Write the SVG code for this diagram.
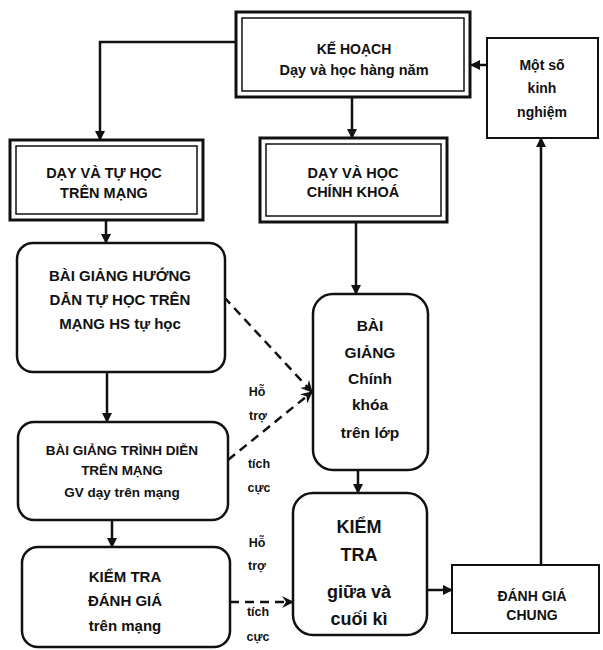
<svg xmlns="http://www.w3.org/2000/svg" width="603" height="650" viewBox="0 0 603 650">
<style>
text{font-family:"Liberation Sans",Arial,sans-serif;font-weight:bold;fill:#111;text-anchor:middle;dominant-baseline:central}
.o{fill:#fff;stroke:#111;stroke-width:3}
.i{fill:none;stroke:#111;stroke-width:1.5}
.r{fill:#fff;stroke:#111;stroke-width:2.5}
.s{fill:#fff;stroke:#111;stroke-width:2}
.c{fill:none;stroke:#111;stroke-width:2.5}
.d{fill:none;stroke:#111;stroke-width:2.5;stroke-dasharray:9,6}
.l{font-size:12.5px}
</style>
<defs>
<marker id="a" markerWidth="10" markerHeight="10" refX="9" refY="5" orient="auto" markerUnits="userSpaceOnUse"><path d="M0,0 L10,5 L0,10 Z" fill="#111"/></marker>
<marker id="b" markerWidth="12" markerHeight="12" refX="11" refY="6" orient="auto" markerUnits="userSpaceOnUse"><path d="M0,0 L12,6 L0,12 L4,6 Z" fill="#111"/></marker>
</defs>
<g id="connectors">
<path class="c" d="M236,42 H100 V140" marker-end="url(#a)"/>
<path class="c" d="M352,97 V138" marker-end="url(#a)"/>
<path class="c" d="M487,65 H471" marker-end="url(#a)"/>
<path class="c" d="M541,565 V138" marker-end="url(#a)"/>
<path class="c" d="M106,220 V243" marker-end="url(#a)"/>
<path class="c" d="M356,222 V294" marker-end="url(#a)"/>
<path class="c" d="M107,372 V422" marker-end="url(#a)"/>
<path class="c" d="M112,520 V547" marker-end="url(#a)"/>
<path class="c" d="M358,470 V493" marker-end="url(#a)"/>
<path class="c" d="M427,590 H452" marker-end="url(#a)"/>
<path class="d" d="M224,297 L312,392" marker-end="url(#b)"/>
<path class="d" d="M228,460 L312,392" marker-end="url(#b)"/>
<path class="d" d="M230,602 H293" marker-end="url(#b)"/>
<text class="l" x="257" y="392">Hỗ</text>
<text class="l" x="258" y="416">trợ</text>
<text class="l" x="259" y="464">tích</text>
<text class="l" x="259" y="488">cực</text>
<text class="l" x="257" y="543">Hỗ</text>
<text class="l" x="257" y="566">trợ</text>
<text class="l" x="258" y="612">tích</text>
<text class="l" x="258" y="637">cực</text>
</g>
<g id="kehoach">
<rect class="o" x="236" y="12" width="234" height="85"/>
<rect class="i" x="242" y="18" width="222" height="73"/>
<text x="354" y="49" font-size="14">KẾ HOẠCH</text>
<text x="354" y="70" font-size="14.5">Dạy và học hàng năm</text>
</g>
<g id="kinhnghiem">
<rect class="s" x="487" y="38" width="111" height="100"/>
<text x="542" y="65" font-size="14">Một số</text>
<text x="542" y="88" font-size="14">kinh</text>
<text x="542" y="112" font-size="14">nghiệm</text>
</g>
<g id="daytuhoc">
<rect class="o" x="10" y="140" width="193" height="80"/>
<rect class="i" x="16" y="146" width="181" height="68"/>
<text x="104" y="173" font-size="14.5">DẠY VÀ TỰ HỌC</text>
<text x="104" y="193" font-size="14.5">TRÊN MẠNG</text>
</g>
<g id="dayhoc">
<rect class="o" x="260" y="138" width="187" height="84"/>
<rect class="i" x="266" y="144" width="175" height="72"/>
<text x="353" y="173" font-size="14.5">DẠY VÀ HỌC</text>
<text x="353" y="192" font-size="14.5">CHÍNH KHOÁ</text>
</g>
<g id="baigianghuongdan">
<rect class="r" x="17" y="243" width="208" height="129" rx="16"/>
<text x="120" y="275" font-size="15">BÀI GIẢNG HƯỚNG</text>
<text x="120" y="299" font-size="15">DẪN TỰ HỌC TRÊN</text>
<text x="120" y="323" font-size="15">MẠNG HS tự học</text>
</g>
<g id="baigiangtrinhdien">
<rect class="r" x="18" y="422" width="210" height="98" rx="16"/>
<text x="122" y="450" font-size="13.5">BÀI GIẢNG TRÌNH DIỄN</text>
<text x="122" y="470" font-size="13.5">TRÊN MẠNG</text>
<text x="122" y="492" font-size="13.5">GV dạy trên mạng</text>
</g>
<g id="kiemtradanhgia">
<rect class="r" x="22" y="547" width="208" height="100" rx="16"/>
<text x="125" y="576" font-size="15">KIỂM TRA</text>
<text x="125" y="600" font-size="15">ĐÁNH GIÁ</text>
<text x="125" y="625" font-size="15">trên mạng</text>
</g>
<g id="baigiangchinhkhoa">
<rect class="r" x="313" y="294" width="115" height="176" rx="20"/>
<text x="370" y="325" font-size="15.5">BÀI</text>
<text x="370" y="352" font-size="15.5">GIẢNG</text>
<text x="370" y="378" font-size="15.5">Chính</text>
<text x="370" y="404" font-size="15.5">khóa</text>
<text x="370" y="432" font-size="15.5">trên lớp</text>
</g>
<g id="kiemtragiuaki">
<rect class="r" x="293" y="493" width="134" height="142" rx="20"/>
<text x="359" y="527" font-size="18">KIỂM</text>
<text x="359" y="555" font-size="18">TRA</text>
<text x="359" y="592" font-size="18">giữa và</text>
<text x="359" y="619" font-size="18">cuối kì</text>
</g>
<g id="danhgiachung">
<rect class="s" x="452" y="565" width="147" height="68"/>
<text x="532" y="596" font-size="14">ĐÁNH GIÁ</text>
<text x="532" y="615" font-size="14">CHUNG</text>
</g>
</svg>
